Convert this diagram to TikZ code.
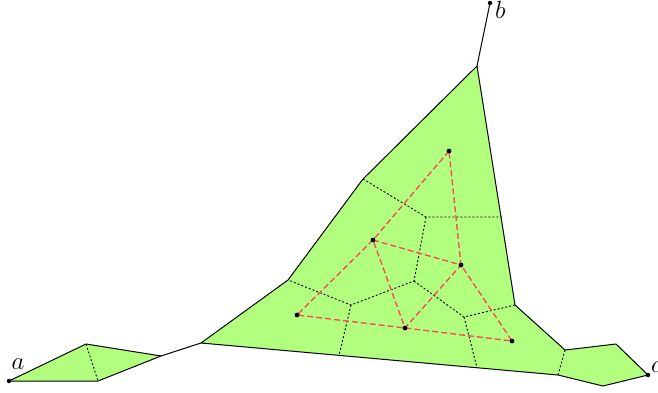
\documentclass[tikz,border=0pt]{standalone}
\definecolor{fillg}{RGB}{178,255,128}
\definecolor{redl}{RGB}{245,80,80}
\tikzset{
  solid edge/.style={draw=black,line width=1pt,line join=round},
  vdash/.style={draw=black,line width=0.9pt,dash pattern=on 2pt off 2pt},
  redge/.style={draw=redl,line width=1.4pt,dash pattern=on 6pt off 3pt},
  pt/.style={circle,fill=black,inner sep=0pt,minimum size=4.5pt},
  lbl/.style={inner sep=0pt,font=\fontsize{23}{27}\selectfont}
}
\begin{document}
\begin{tikzpicture}[x=1pt,y=-1pt]
\useasboundingbox (0,0) rectangle (658,393);
% outer coordinates
\coordinate (a) at (9,381);
\coordinate (l1) at (86,344);
\coordinate (l2) at (161,356);
\coordinate (l3) at (98,381);
\coordinate (m0) at (201,343);
\coordinate (m1) at (288,280);
\coordinate (m2) at (363,179);
\coordinate (m3) at (477,66);
\coordinate (m4) at (515,305);
\coordinate (m5) at (565,350);
\coordinate (m6) at (558,375);
\coordinate (r1) at (616,344);
\coordinate (c) at (648,375);
\coordinate (r3) at (603,386);
\coordinate (b) at (490,3);
% inner voronoi vertices
\coordinate (v1) at (426,217);
\coordinate (v2) at (502,217);
\coordinate (v3) at (414,281);
\coordinate (v4) at (351,305);
\coordinate (v5) at (339,355.4);
\coordinate (v6) at (464,317);
\coordinate (v7) at (477,367.7);
% fills
\fill[fillg] (a) -- (l1) -- (l2) -- (l3) -- cycle;
\fill[fillg] (m0) -- (m1) -- (m2) -- (m3) -- (m4) -- (m5) -- (m6) -- cycle;
\fill[fillg] (m5) -- (r1) -- (c) -- (r3) -- (m6) -- cycle;
% dashed cell borders
\draw[vdash] (l1) -- (l3);
\draw[vdash] (m5) -- (m6);
\draw[vdash] (m2) -- (v1) -- (v2);
\draw[vdash] (v1) -- (v3) -- (v4) -- (m1);
\draw[vdash] (v4) -- (v5);
\draw[vdash] (v3) -- (v6) -- (m4);
\draw[vdash] (v6) -- (v7);
% solid outlines
\draw[solid edge] (a) -- (l1) -- (l2) -- (m0) -- (m1) -- (m2) -- (m3) -- (m4) -- (m5) -- (r1) -- (c) -- (r3) -- (m6) -- (m0);
\draw[solid edge] (l2) -- (l3) -- (a);
\draw[solid edge] (m3) -- (b);
% red points
\node[pt] (p1) at (449,151) {};
\node[pt] (p2) at (373,240) {};
\node[pt] (p3) at (461,265) {};
\node[pt] (p4) at (297,315) {};
\node[pt] (p5) at (405,328) {};
\node[pt] (p6) at (512,341) {};
\begin{scope}[on background layer/.try]
\end{scope}
\draw[redge] (p1.center) -- (p2.center) -- (p4.center) -- (p5.center) -- (p6.center) -- (p3.center) -- (p1.center);
\draw[redge] (p2.center) -- (p3.center) -- (p5.center) -- (p2.center);
% redraw dots on top
\foreach \p in {p1,p2,p3,p4,p5,p6} \fill (\p) circle (2.3pt);
% end points
\node[pt] (na) at (a) {};
\node[pt] (nb) at (b) {};
\node[pt] (nc) at (c) {};
\node[lbl,anchor=base] (la) at (18,369) {$a$};
\node[lbl,anchor=base west] (lb) at (495,19) {$b$};
\node[lbl,anchor=base west] (lc) at (651,372) {$c$};
\end{tikzpicture}
\end{document}
